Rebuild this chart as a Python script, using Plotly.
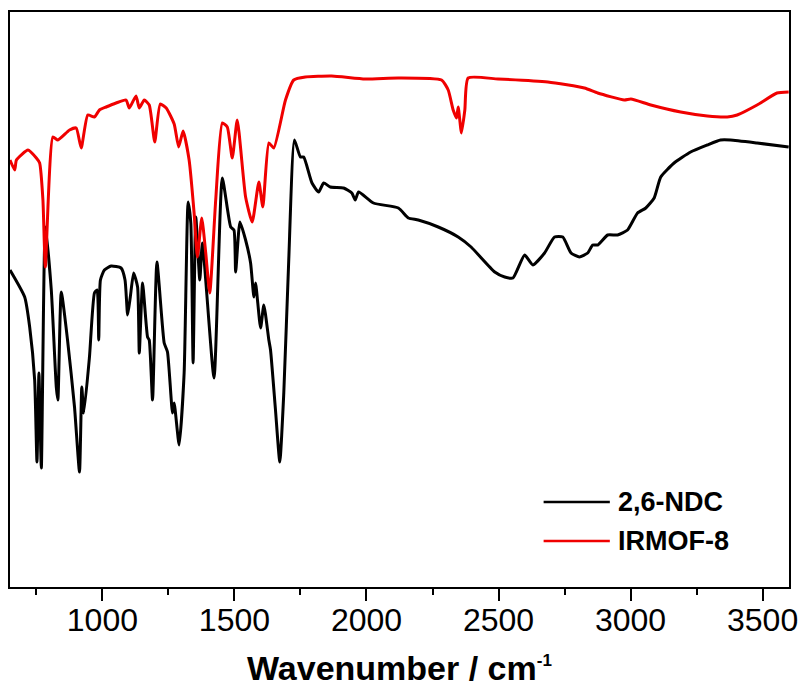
import plotly.graph_objects as go

# 2,6-NDC spectrum (wavenumber cm-1, transmittance a.u.)
ndc_wn = [650, 705.6, 724.5, 743.4, 752.1, 759.6, 768.7, 783.8, 806.4, 825.3, 831.3, 844.1, 867.9,
          894.3, 913.2, 921.9, 929.4, 950.9, 969.8, 980.0, 986.0, 992.4, 1007.5, 1032.8, 1070.6,
          1085.6, 1095.5, 1105.6, 1118.1, 1133.2, 1139.6, 1152.1, 1170.9, 1177.3, 1189.8, 1206.4,
          1233.9, 1246.4, 1265.3, 1271.7, 1290.5, 1309.4, 1324.5, 1334.7, 1343.4, 1353.6, 1368.7,
          1378.5, 1422.6, 1454.0, 1485.7, 1498.1, 1504.5, 1520.8, 1542.2, 1561.1, 1573.6, 1580.0,
          1598.9, 1611.3, 1630.2, 1636.6, 1655.4, 1671.7, 1686.8, 1705.6, 1727.1, 1749.8, 1762.2,
          1793.6, 1818.9, 1837.7, 1863.0, 1913.2, 1944.5, 1957.3, 1969.8, 2026.4, 2120.7, 2158.5,
          2196.2, 2271.7, 2347.2, 2396.1, 2485.6, 2523.3, 2554.7, 2598.8, 2630.2, 2674.3, 2712.1,
          2743.4, 2774.7, 2806.4, 2837.7, 2856.6, 2875.5, 2913.2, 2951.0, 2988.7, 3026.4, 3057.7,
          3089.4, 3114.3, 3164.9, 3227.5, 3290.6, 3340.8, 3378.5, 3479.1, 3598.8]
ndc_t = [63.4, 58.0, 52.0, 41.4, 25.0, 42.8, 23.8, 72.0, 59.4, 40.0, 37.4, 59.0, 49.4,
         36.0, 23.0, 40.0, 34.8, 46.0, 58.8, 59.4, 49.4, 61.4, 63.4, 64.2, 63.8,
         61.4, 54.4, 58.0, 62.8, 60.0, 46.8, 60.8, 50.0, 49.4, 37.4, 65.0,
         48.8, 47.0, 34.8, 36.8, 28.4, 42.8, 77.0, 72.8, 44.8, 74.0, 61.4,
         68.8, 41.8, 81.8, 72.0, 71.4, 63.0, 73.0, 69.4, 64.8, 58.0, 60.8,
         51.8, 56.4, 49.4, 47.4, 35.4, 25.0, 38.8, 65.4, 89.4, 86.0, 86.0,
         80.8, 79.0, 80.8, 80.0, 79.8, 78.8, 77.4, 79.0, 76.8, 75.8, 73.8,
         73.4, 72.0, 70.0, 68.0, 63.0, 62.0, 61.8, 66.4, 64.4, 66.8, 70.0,
         70.0, 66.8, 66.0, 66.8, 68.4, 68.4, 70.4, 70.4, 71.4, 74.8, 75.8,
         77.8, 82.0, 84.8, 87.0, 88.4, 89.4, 89.4, 88.8, 88.0]

# IRMOF-8 spectrum
mof_wn = [650, 667.9, 674.3, 718.1, 749.8, 762.2, 774.7, 783.8, 812.4, 831.3, 875.5, 900.7, 919.6,
          944.5, 969.8, 988.7, 1013.9, 1051.7, 1089.4, 1101.9, 1127.2, 1139.6, 1158.5, 1177.3,
          1198.1, 1218.9, 1241.5, 1271.7, 1288.7, 1305.6, 1328.3, 1347.2, 1359.6, 1376.2, 1391.3,
          1406.4, 1429.0, 1454.0, 1472.8, 1491.7, 1510.6, 1542.2, 1567.2, 1592.4, 1607.5, 1630.2,
          1649.0, 1693.2, 1724.5, 1768.4, 1867.9, 1995.1, 2120.7, 2284.2, 2309.5, 2328.3, 2340.8,
          2347.2, 2359.6, 2372.4, 2384.9, 2498.1, 2686.8, 2825.2, 2875.5, 2976.3, 3001.2, 3076.7,
          3189.8, 3290.6, 3366.1, 3403.8, 3479.1, 3554.6, 3598.8]
mof_t = [85.4, 83.4, 85.4, 87.4, 85.8, 84.8, 77.4, 64.0, 90.0, 89.4, 91.4, 91.8, 87.8,
         94.4, 94.0, 95.4, 96.0, 96.8, 97.4, 95.8, 98.2, 95.8, 97.4, 96.4,
         89.0, 96.6, 95.8, 92.6, 88.0, 91.2, 85.4, 74.8, 66.0, 73.8, 66.8,
         58.8, 77.4, 92.8, 92.0, 85.8, 93.4, 78.0, 73.0, 81.0, 76.0, 88.8,
         87.8, 97.4, 101.4, 102.0, 102.2, 101.6, 101.8, 101.4, 99.4, 95.4, 93.8,
         96.0, 90.8, 95.4, 101.8, 101.6, 101.0, 99.8, 98.8, 97.4, 97.6, 96.4,
         95.0, 94.2, 94.0, 94.4, 96.4, 98.8, 99.0]

series_names = ["2,6-NDC", "IRMOF-8"]
series_colors = ["#000000", "#f00000"]
x_tickvals = [1000, 1500, 2000, 2500, 3000, 3500]
x_ticktext = ["1000", "1500", "2000", "2500", "3000", "3500"]

FONT = "Arial, 'Liberation Sans', sans-serif"

fig = go.Figure()
fig.add_trace(go.Scatter(x=ndc_wn, y=ndc_t, mode="lines", name=series_names[0],
                         line=dict(color=series_colors[0], width=3, shape="spline", smoothing=0.5),
                         showlegend=False))
fig.add_trace(go.Scatter(x=mof_wn, y=mof_t, mode="lines", name=series_names[1],
                         line=dict(color=series_colors[1], width=3, shape="spline", smoothing=0.5),
                         showlegend=False))

# custom legend (paper coordinates)
leg_y = [0.148, 0.080]
for name, col, yy in zip(series_names, series_colors, leg_y):
    fig.add_shape(type="line", xref="paper", yref="paper", x0=0.685, x1=0.770, y0=yy, y1=yy,
                  line=dict(color=col, width=2.5))
    fig.add_annotation(xref="paper", yref="paper", x=0.778, y=yy, text="<b>" + name + "</b>",
                       showarrow=False, xanchor="left", yanchor="middle",
                       font=dict(family=FONT, size=27, color="black"))

fig.add_annotation(xref="paper", yref="paper", x=0.5, y=-0.140,
                   text="<b>Wavenumber / cm<sup><span style='font-size:17px'>-1</span></sup></b>",
                   showarrow=False, xanchor="center", yanchor="middle",
                   font=dict(family=FONT, size=34, color="black"))

fig.update_layout(
    width=808, height=688,
    margin=dict(l=10, r=16, t=12, b=101),
    paper_bgcolor="white", plot_bgcolor="white",
    font=dict(family=FONT, color="black"),
    xaxis=dict(range=[650, 3600], showgrid=False, zeroline=False,
               showline=True, linecolor="black", linewidth=2, mirror=True,
               tickmode="array", tickvals=x_tickvals, ticktext=x_ticktext,
               ticks="outside", ticklen=12, tickwidth=2, tickcolor="black",
               ticklabelstandoff=-8,
               tickfont=dict(family=FONT, size=32, color="black"),
               minor=dict(tickmode="linear", tick0=750, dtick=500, ticks="outside",
                          ticklen=6, tickwidth=2, tickcolor="black", showgrid=False)),
    yaxis=dict(range=[0, 115], showgrid=False, zeroline=False, showticklabels=False,
               ticks="", showline=True, linecolor="black", linewidth=2, mirror=True),
)

fig.write_html("out.html")
